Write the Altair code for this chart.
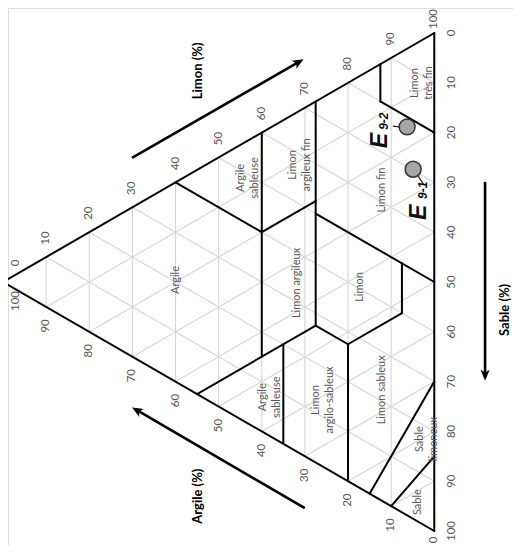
import altair as alt
import pandas as pd
import numpy as np

# ---------------- data ----------------
grid_values = [10, 20, 30, 40, 50, 60, 70, 80, 90]
tick_values = [0, 10, 20, 30, 40, 50, 60, 70, 80, 90, 100]

# class boundaries, as (clay, silt) start -> (clay, silt) end
bound_clay1 = [60, 40, 40, 27.5, 27.5, 55, 35, 27.5, 20, 7.5, 20, 0, 0, 12.5, 12.5]
bound_silt1 = [40, 60, 40, 72.5, 50, 0, 20, 27.5, 27.5, 40, 27.5, 30, 15, 87.5, 80]
bound_clay2 = [40, 40, 27.5, 27.5, 0, 27.5, 35, 20, 7.5, 7.5, 20, 15, 10, 12.5, 0]
bound_silt2 = [40, 15, 52.5, 27.5, 50, 27.5, 0, 27.5, 40, 50, 0, 0, 0, 80, 80]

zone_names = [["Argile"], ["Argile", "sableuse"], ["Limon", "argileux fin"],
              ["Limon argileux"], ["Limon"], ["Limon fin"], ["Limon", "très fin"],
              ["Argile", "sableuse"], ["Limon", "argilo-sableux"], ["Limon sableux"],
              ["Sable", "limoneux"], ["Sable"]]
zone_clay = [60, 44.8, 32.8, 31.8, 17.2, 12.1, 4.5, 39.7, 27.4, 12.1, 3.3, 3.8]
zone_silt = [20.4, 48.5, 57.1, 33.9, 40.4, 62.4, 87.7, 7.0, 12.6, 22.3, 16.8, 3.9]

sample_names = ["E9-1", "E9-2"]
sample_subs = ["9-1", "9-2"]
sample_clay = [4.9, 6.3]
sample_silt = [70.2, 78.0]

# ---------------- layout helpers ----------------
K = 4.98            # pixels per percent
W, H = 505, 537
R3 = np.sqrt(3) / 2


def px(clay, silt):
    clay = np.asarray(clay, dtype=float)
    silt = np.asarray(silt, dtype=float)
    return (100 - clay) * R3, clay / 2 + silt


xs = alt.Scale(domain=[5 / K, (5 + W) / K], nice=False, zero=False)
ys = alt.Scale(domain=[(523 - H) / K, 523 / K], nice=False, zero=False)


def X(f):
    return alt.X(f, type="quantitative", scale=xs, axis=None)


def Y(f):
    return alt.Y(f, type="quantitative", scale=ys, axis=None)


def seg_df(c1, l1, c2, l2):
    x1, y1 = px(c1, l1)
    x2, y2 = px(c2, l2)
    return pd.DataFrame({"x": x1, "y": y1, "x2": x2, "y2": y2})


def rules(df, color, width):
    return alt.Chart(df).mark_rule(color=color, strokeWidth=width, strokeCap="round").encode(
        x=X("x"), y=Y("y"), x2="x2:Q", y2="y2:Q")


# grid lines every 10 %
gc1, gl1, gc2, gl2 = [], [], [], []
for v in grid_values:
    gc1 += [v, 100 - v, 100 - v]
    gl1 += [100 - v, v, 0]
    gc2 += [v, 0, 0]
    gl2 += [0, v, 100 - v]
grid = rules(seg_df(gc1, gl1, gc2, gl2), "#d6d6d6", 1.1)

bounds = rules(seg_df(bound_clay1, bound_silt1, bound_clay2, bound_silt2), "black", 2)
outline = rules(seg_df([100, 0, 0], [0, 100, 0], [0, 0, 100], [100, 0, 0]), "black", 2)

# zone labels
zx, zy = px(zone_clay, zone_silt)
zdf = pd.DataFrame({"x": zx, "y": zy, "t": zone_names})
zones = alt.Chart(zdf).mark_text(angle=270, font="Lato", fontSize=11, color="#5a5a5a",
                                 align="center", baseline="middle", lineHeight=14).encode(
    x=X("x"), y=Y("y"), text="t")

# tick labels (label positions at the page edges nudged inward so they stay visible)
tv = np.array(tick_values, dtype=float)
labels = [str(int(v)) for v in tv]
lx, ly = px(100 - tv, tv)
sx, sy = px(np.zeros_like(tv), 100 - tv)
ax_, ay_ = px(tv, np.zeros_like(tv))
lx = lx.copy(); ly = ly.copy(); ax_ = ax_.copy(); ay_ = ay_.copy()
lx[0] += 13 / K         # Limon "0" at left tip
ly[-1] -= 5 / K         # Limon "100" at top
ax_[-1] += 13 / K       # Argile "100" at left tip
ay_[0] += 10 / K        # Argile "0" at bottom

tick_style = dict(angle=270, font="Lato", fontSize=11.5, color="#555555",
                  align="center", baseline="middle")
tl = alt.Chart(pd.DataFrame({"x": lx, "y": ly, "t": labels})).mark_text(
    dx=19, **tick_style).encode(x=X("x"), y=Y("y"), text="t")
ts = alt.Chart(pd.DataFrame({"x": sx, "y": sy, "t": labels})).mark_text(
    dy=18, **tick_style).encode(x=X("x"), y=Y("y"), text="t")
ta = alt.Chart(pd.DataFrame({"x": ax_, "y": ay_, "t": labels})).mark_text(
    dx=-19, **tick_style).encode(x=X("x"), y=Y("y"), text="t")

# samples
px_s, py_s = px(sample_clay, sample_silt)
sdf = pd.DataFrame({"x": px_s, "y": py_s, "name": sample_names})
leaders = alt.Chart(pd.DataFrame({"x": [83.1, 78.3], "y": [71.7, 81.3],
                                  "x2": [84.5, 79.9], "y2": [69.5, 81.1]})).mark_rule(
    color="#222222", strokeWidth=1.2).encode(x=X("x"), y=Y("y"), x2="x2:Q", y2="y2:Q")
points = alt.Chart(sdf).mark_point(filled=True, size=255, color="#a6a6a6", stroke="#333333",
                                   strokeWidth=1.5, opacity=1).encode(x=X("x"), y=Y("y"))
e_big = alt.Chart(pd.DataFrame({"x": [83.6, 75.8], "y": [64.0, 78.4], "t": ["E", "E"]})).mark_text(
    angle=270, font="Liberation Sans", fontSize=23, fontStyle="italic", fontWeight="bold",
    color="#111111", align="center", baseline="middle").encode(x=X("x"), y=Y("y"), text="t")
e_sub = alt.Chart(pd.DataFrame({"x": [84.4, 76.6], "y": [68.4, 82.3], "t": sample_subs})).mark_text(
    angle=270, font="Liberation Sans", fontSize=12, fontStyle="italic", fontWeight="bold",
    color="#111111", align="center", baseline="middle").encode(x=X("x"), y=Y("y"), text="t")

# direction arrows and axis titles
arrows = alt.Chart(pd.DataFrame({"x": [25.9, 96.8, 60.6], "y": [74.9, 70.1, 4.6],
                                 "x2": [59.6, 96.8, 26.8], "y2": [94.3, 31.0, 24.3]})).mark_rule(
    color="black", strokeWidth=2.6).encode(x=X("x"), y=Y("y"), x2="x2:Q", y2="y2:Q")
heads = alt.Chart(pd.DataFrame({"x": [59.3, 96.8, 26.97], "y": [94.1, 31.4, 24.2],
                                "a": [60, 180, 300]})).mark_point(
    shape="M0,-1L0.75,0.8L0,0.35L-0.75,0.8Z", filled=True, size=150, color="black", opacity=1).encode(
    x=X("x"), y=Y("y"), angle=alt.Angle("a:Q", scale=None))
titles = alt.Chart(pd.DataFrame({"x": [39.2, 100.8, 39.2], "y": [92.4, 44.4, 7.0],
                                 "t": ["Limon (%)", "Sable (%)", "Argile (%)"]})).mark_text(
    angle=270, font="Lato", fontSize=13, fontWeight="bold", color="black",
    align="center", baseline="middle").encode(x=X("x"), y=Y("y"), text="t")

chart = alt.layer(grid, bounds, outline, zones, tl, ts, ta, arrows, heads, titles,
                  leaders, points, e_big, e_sub).properties(
    width=W, height=H, autosize=alt.AutoSizeParams(type="none"), padding=0
).configure_view(stroke=None).configure(background="white")

chart.save("out.html", embed_options={"renderer": "svg", "actions": False})
